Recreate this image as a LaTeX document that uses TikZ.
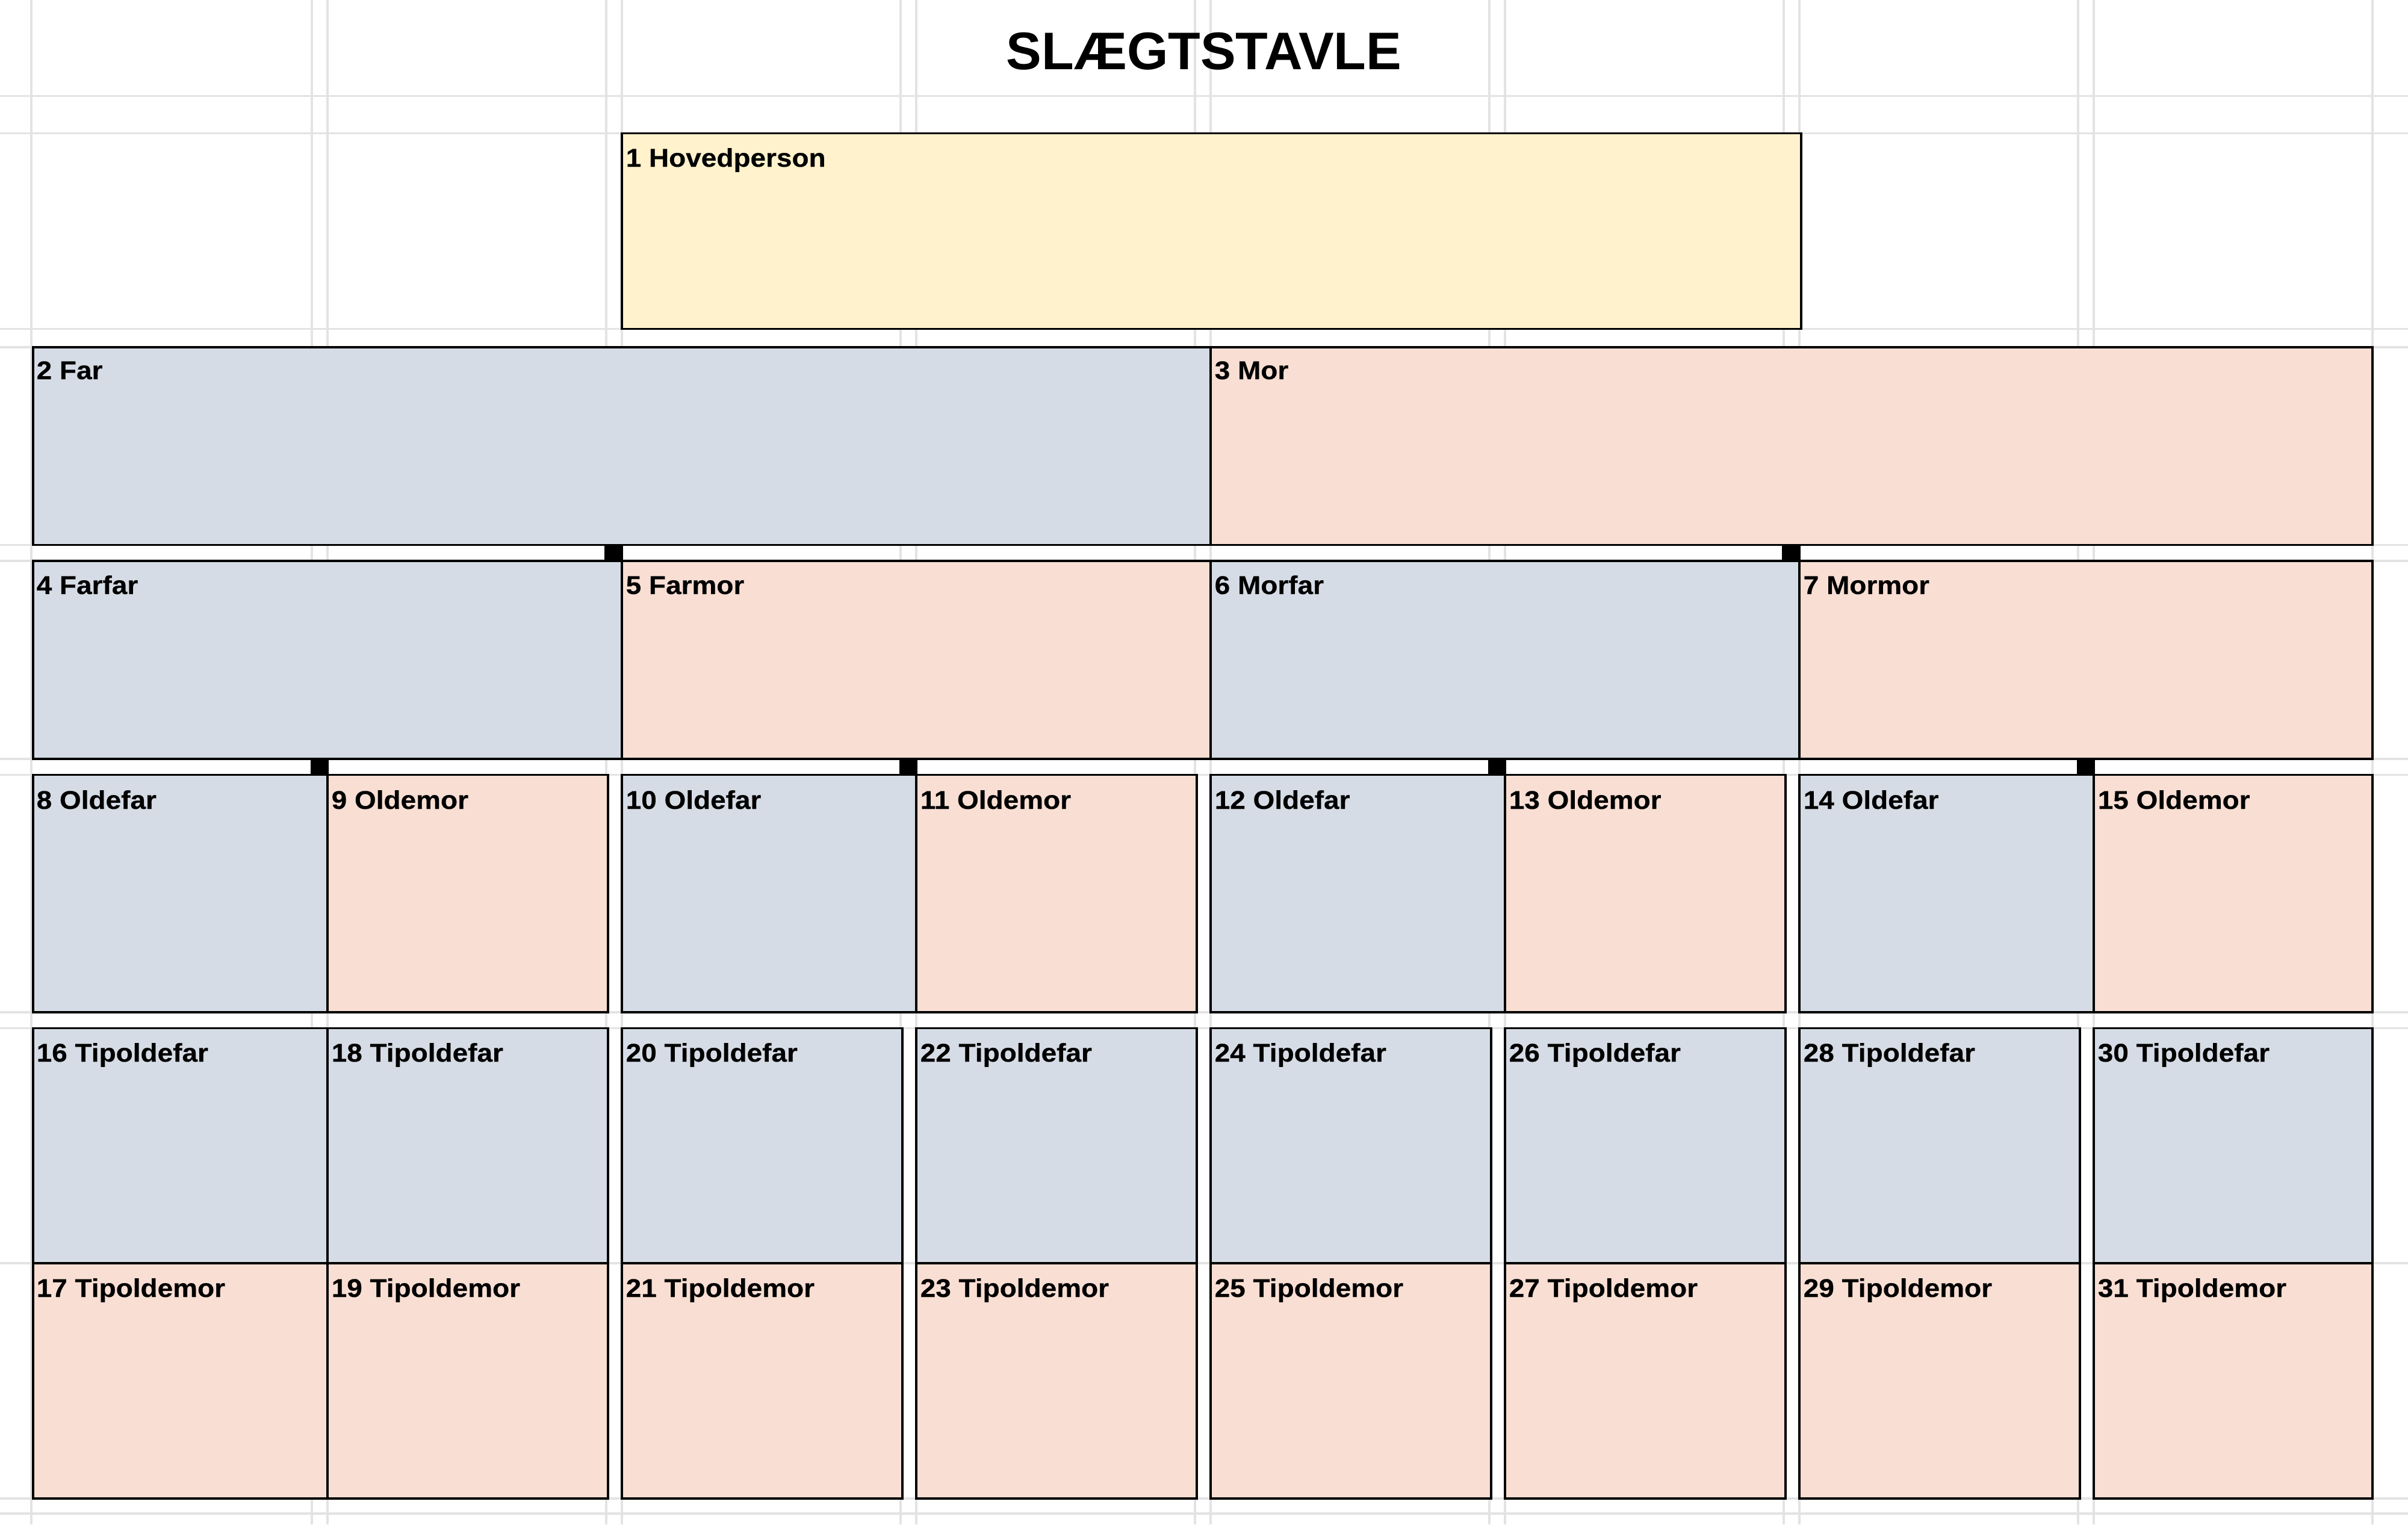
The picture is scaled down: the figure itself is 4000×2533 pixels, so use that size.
\documentclass[tikz,border=0pt]{standalone}
\usepackage{fontspec}
\setmainfont{Liberation Sans}
\newfontfamily\cellfont{Liberation Sans}[FakeStretch=1.08, FakeBold=0.4]

\definecolor{farblue}{HTML}{D6DCE5}
\definecolor{morpeach}{HTML}{F8DED3}
\definecolor{hovedyellow}{HTML}{FFF2CC}
\definecolor{gridgray}{HTML}{E3E3E3}

\tikzset{
    gridline/.style={draw=gridgray, line width=0.035cm},
    farbox/.style={draw=black, fill=farblue, line width=0.032cm},
    morbox/.style={draw=black, fill=morpeach, line width=0.032cm},
    hovedbox/.style={draw=black, fill=hovedyellow, line width=0.032cm},
    knot/.style={fill=black},
    namelabel/.style={anchor=base west, inner sep=0pt, font=\cellfont\bfseries\fontsize{12.1}{14}\selectfont},
    titletext/.style={anchor=base, inner sep=0pt, font=\bfseries\fontsize{25}{30}\selectfont}
}

\begin{document}
\begin{tikzpicture}[x=0.01cm, y=-0.01cm]
        \useasboundingbox (0,0) rectangle (4000,2533);

        % sheet grid
        \foreach \gx in {52,518,544,1007,1033,1496,1522,1985,2011,2474,2500,2963,2989,3452,3478,3941}
            \draw[gridline] (\gx,0) -- (\gx,2533);
        \foreach \gy in {159.5,221.5,546.5,577,905.5,932,1261,1287.5,1682,1708.5,2099,2490,2515}
            \draw[gridline] (0,\gy) -- (4000,\gy);

        % title
        \node[titletext] (titel) at (2000,115) {SLÆGTSTAVLE};

        % hovedperson
        \draw[hovedbox] (1033,221.5) rectangle (2992,546.5);
        \node[namelabel] (hovedperson) at (1039,277) {1 Hovedperson};

        % parents
        \draw[farbox] (55,577) rectangle (2011,905.5);
        \draw[morbox] (2011,577) rectangle (3941,905.5);
        \node[namelabel] (far) at (60,630) {2 Far};
        \node[namelabel] (mor) at (2017,630) {3 Mor};

        % grandparents
        \draw[farbox] (55,932) rectangle (1033,1261);
        \draw[morbox] (1033,932) rectangle (2011,1261);
        \draw[farbox] (2011,932) rectangle (2989,1261);
        \draw[morbox] (2989,932) rectangle (3941,1261);
        \node[namelabel] (farfar) at (60,987) {4 Farfar};
        \node[namelabel] (farmor) at (1039,987) {5 Farmor};
        \node[namelabel] (morfar) at (2017,987) {6 Morfar};
        \node[namelabel] (mormor) at (2995,987) {7 Mormor};

        % great grandparents
        \draw[farbox] (55,1287.5) rectangle (544,1682);
        \draw[morbox] (544,1287.5) rectangle (1010,1682);
        \draw[farbox] (1033,1287.5) rectangle (1522,1682);
        \draw[morbox] (1522,1287.5) rectangle (1988,1682);
        \draw[farbox] (2011,1287.5) rectangle (2500,1682);
        \draw[morbox] (2500,1287.5) rectangle (2966,1682);
        \draw[farbox] (2989,1287.5) rectangle (3478,1682);
        \draw[morbox] (3478,1287.5) rectangle (3941,1682);
        \node[namelabel] (oldefar8) at (60,1344) {8 Oldefar};
        \node[namelabel] (oldemor9) at (550,1344) {9 Oldemor};
        \node[namelabel] (oldefar10) at (1039,1344) {10 Oldefar};
        \node[namelabel] (oldemor11) at (1528,1344) {11 Oldemor};
        \node[namelabel] (oldefar12) at (2017,1344) {12 Oldefar};
        \node[namelabel] (oldemor13) at (2506,1344) {13 Oldemor};
        \node[namelabel] (oldefar14) at (2995,1344) {14 Oldefar};
        \node[namelabel] (oldemor15) at (3484,1344) {15 Oldemor};

        % great great grandfathers
        \draw[farbox] (55,1708.5) rectangle (544,2099);
        \draw[farbox] (544,1708.5) rectangle (1010,2099);
        \draw[farbox] (1033,1708.5) rectangle (1499,2099);
        \draw[farbox] (1522,1708.5) rectangle (1988,2099);
        \draw[farbox] (2011,1708.5) rectangle (2477,2099);
        \draw[farbox] (2500,1708.5) rectangle (2966,2099);
        \draw[farbox] (2989,1708.5) rectangle (3455,2099);
        \draw[farbox] (3478,1708.5) rectangle (3941,2099);
        \node[namelabel] (tipoldefar16) at (60,1764) {16 Tipoldefar};
        \node[namelabel] (tipoldefar18) at (550,1764) {18 Tipoldefar};
        \node[namelabel] (tipoldefar20) at (1039,1764) {20 Tipoldefar};
        \node[namelabel] (tipoldefar22) at (1528,1764) {22 Tipoldefar};
        \node[namelabel] (tipoldefar24) at (2017,1764) {24 Tipoldefar};
        \node[namelabel] (tipoldefar26) at (2506,1764) {26 Tipoldefar};
        \node[namelabel] (tipoldefar28) at (2995,1764) {28 Tipoldefar};
        \node[namelabel] (tipoldefar30) at (3484,1764) {30 Tipoldefar};

        % great great grandmothers
        \draw[morbox] (55,2099) rectangle (544,2490);
        \draw[morbox] (544,2099) rectangle (1010,2490);
        \draw[morbox] (1033,2099) rectangle (1499,2490);
        \draw[morbox] (1522,2099) rectangle (1988,2490);
        \draw[morbox] (2011,2099) rectangle (2477,2490);
        \draw[morbox] (2500,2099) rectangle (2966,2490);
        \draw[morbox] (2989,2099) rectangle (3455,2490);
        \draw[morbox] (3478,2099) rectangle (3941,2490);
        \node[namelabel] (tipoldemor17) at (60,2155) {17 Tipoldemor};
        \node[namelabel] (tipoldemor19) at (550,2155) {19 Tipoldemor};
        \node[namelabel] (tipoldemor21) at (1039,2155) {21 Tipoldemor};
        \node[namelabel] (tipoldemor23) at (1528,2155) {23 Tipoldemor};
        \node[namelabel] (tipoldemor25) at (2017,2155) {25 Tipoldemor};
        \node[namelabel] (tipoldemor27) at (2506,2155) {27 Tipoldemor};
        \node[namelabel] (tipoldemor29) at (2995,2155) {29 Tipoldemor};
        \node[namelabel] (tipoldemor31) at (3484,2155) {31 Tipoldemor};

        % black knots between generations
        \fill[knot] (1004,905.5) rectangle (1035,932);
        \fill[knot] (2960,905.5) rectangle (2991,932);
        \fill[knot] (516,1261) rectangle (546,1287.5);
        \fill[knot] (1494,1261) rectangle (1524,1287.5);
        \fill[knot] (2472,1261) rectangle (2502,1287.5);
        \fill[knot] (3450,1261) rectangle (3480,1287.5);

\end{tikzpicture}
\end{document}
